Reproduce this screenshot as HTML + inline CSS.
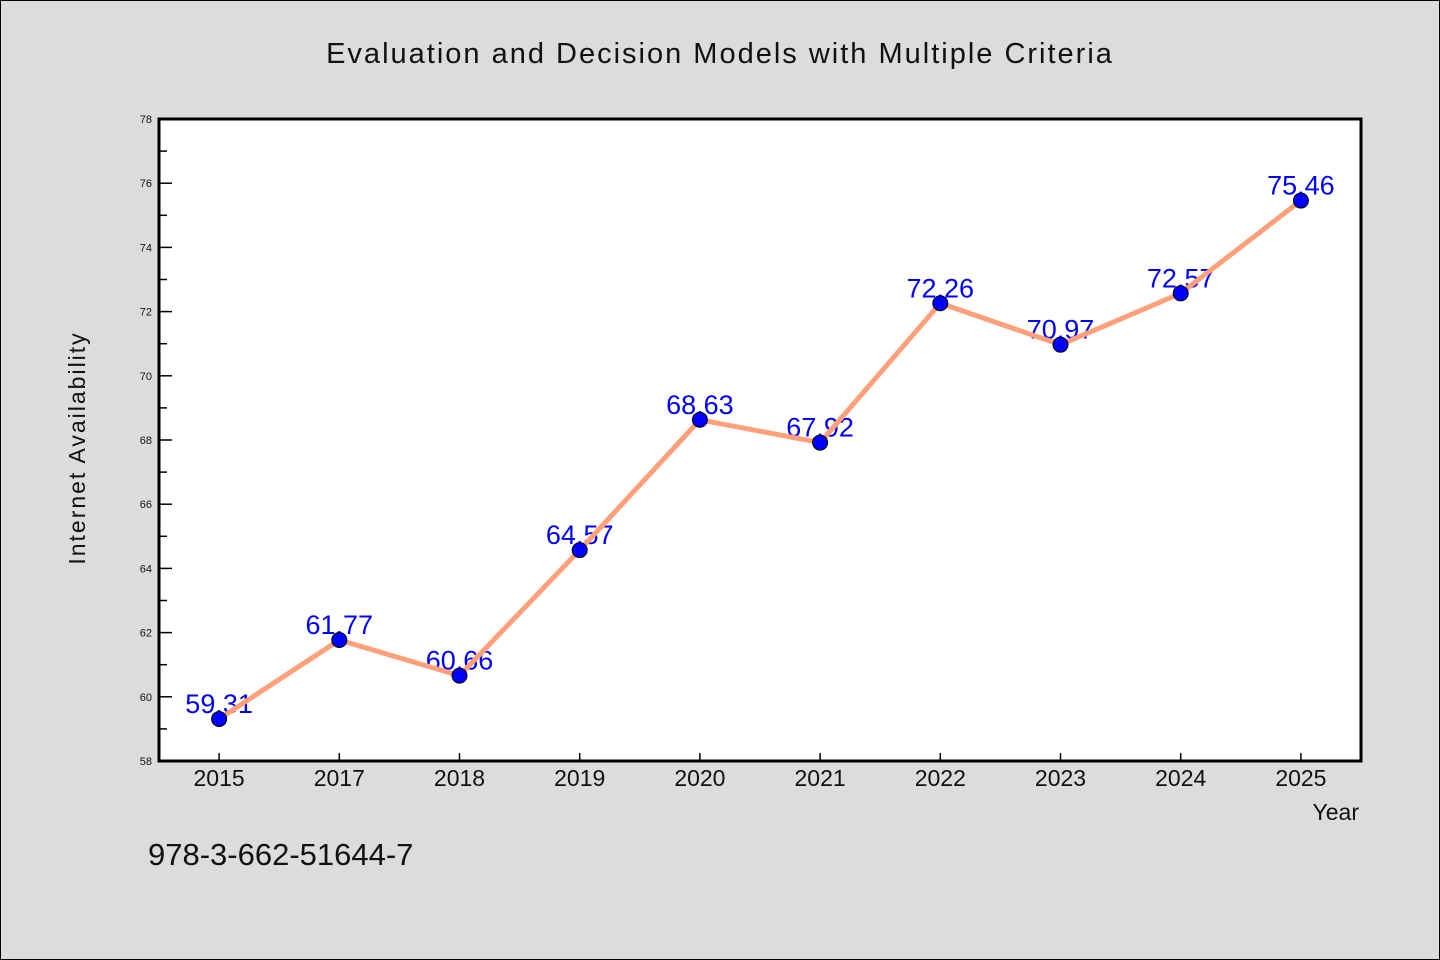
<!DOCTYPE html>
<html><head><meta charset="utf-8"><style>
body{margin:0;background:#dcdcdc;}
svg{display:block;font-family:"WenQuanYi Zen Hei","Liberation Sans",sans-serif;}
</style></head><body>
<svg id="chart" width="1440" height="960">
<rect x="0.5" y="0.5" width="1439" height="959" fill="#dcdcdc" stroke="#000"/>
<text x="720" y="63" text-anchor="middle" font-size="29" letter-spacing="2" fill="#111">Evaluation and Decision Models with Multiple Criteria</text>
<rect x="159" y="119" width="1202" height="642" fill="#fff"/>
<g id="axes"></g>
<g id="series"></g>
<rect x="159" y="119" width="1202" height="642" fill="none" stroke="#000" stroke-width="3"/>
<text transform="translate(85,448) rotate(-90)" text-anchor="middle" font-size="23" letter-spacing="2" fill="#111">Internet Availability</text>
<text x="1359" y="820" text-anchor="end" font-size="23" fill="#111">Year</text>
<text x="148" y="865" font-size="31" fill="#111">978-3-662-51644-7</text>
</svg>
<script>
const categories=["2015","2017","2018","2019","2020","2021","2022","2023","2024","2025"];
const values=[59.31,61.77,60.66,64.57,68.63,67.92,72.26,70.97,72.57,75.46];
const yTicks=[58,60,62,64,66,68,70,72,74,76,78];
const NS="http://www.w3.org/2000/svg";
const L=159,R=1361,T=119,B=761,yMin=58,yMax=78;
const bw=(R-L)/categories.length;
const x=i=>L+bw*(i+0.5);
const y=v=>B-(v-yMin)/(yMax-yMin)*(B-T);
function mk(t,a,p){const e=document.createElementNS(NS,t);for(const k in a)e.setAttribute(k,a[k]);p.appendChild(e);return e;}
const ax=document.getElementById('axes'),se=document.getElementById('series');
yTicks.forEach((v,i)=>{
  const tk=mk('line',{x1:L,x2:L+13,y1:y(v),y2:y(v),stroke:'#000','stroke-width':1.5},ax);
  
  
  const tl=mk('text',{x:L-7,y:y(v)+4,'text-anchor':'end','font-size':11,fill:'#111'},ax);
  tl.textContent=v;
  
  
  if(i<yTicks.length-1){
    const m=mk('line',{x1:L,x2:L+8,y1:y(v+1),y2:y(v+1),stroke:'#000','stroke-width':1.5},ax);
    
    
  }
});
categories.forEach((c,i)=>{
  const tk=mk('line',{x1:x(i),x2:x(i),y1:B,y2:B-8,stroke:'#000','stroke-width':1.5},ax);
  
  
  const tl=mk('text',{x:x(i),y:B+25,'text-anchor':'middle','font-size':23,fill:'#111'},ax);
  tl.textContent=c;
  
  
});
values.forEach((v,i)=>{
  const t=mk('text',{x:x(i),y:y(v)-6,'text-anchor':'middle','font-size':27,fill:'#0000ff'},se);
  t.textContent=v.toFixed(2);
  
  
});
const ln=mk('polyline',{points:values.map((v,i)=>x(i)+','+y(v)).join(' '),fill:'none',stroke:'#ffa07a','stroke-width':5,'stroke-linejoin':'round'},se);


values.forEach((v,i)=>{
  const c=mk('circle',{cx:x(i),cy:y(v),r:7.5,fill:'#0000ff',stroke:'#000','stroke-width':1},se);
  
  
});
</script>
</body></html>
